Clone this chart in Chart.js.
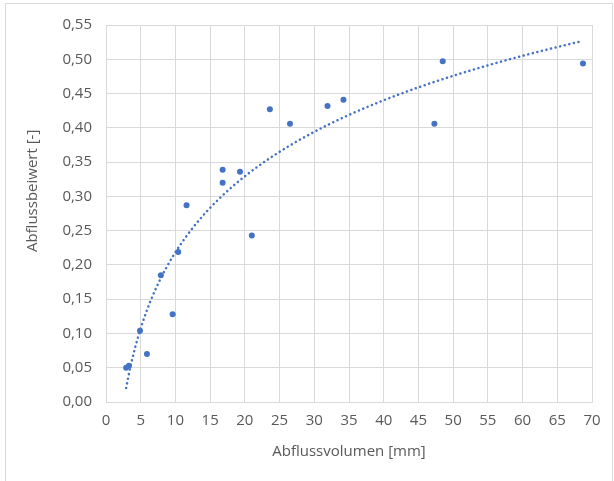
<!DOCTYPE html>
<html lang="de">
<head>
<meta charset="utf-8">
<title>Abflussbeiwert über Abflussvolumen</title>
<script src="https://cdn.jsdelivr.net/npm/chart.js@4"></script>
<style>
  html, body { margin: 0; padding: 0; background: #ffffff; }
  #wrap { position: relative; width: 614px; height: 481px; }
</style>
</head>
<body>
<div id="wrap"><canvas id="chart" width="614" height="481"></canvas></div>
<script>
// Messwerte: Abflussvolumen [mm] und zugehöriger Abflussbeiwert [-]
const abflussvolumen = [2.9, 3.3, 4.9, 5.9, 7.9, 9.6, 10.4, 11.6, 16.8, 16.8, 19.3, 21.0, 23.6, 26.5, 31.9, 34.2, 47.3, 48.5, 68.7];
const abflussbeiwert = [0.050, 0.053, 0.104, 0.070, 0.185, 0.128, 0.219, 0.287, 0.339, 0.320, 0.336, 0.243, 0.427, 0.406, 0.432, 0.441, 0.406, 0.497, 0.494];

// Achsenbeschriftungen
const xTickValues = [0, 5, 10, 15, 20, 25, 30, 35, 40, 45, 50, 55, 60, 65, 70];
const xTickLabels = ['0', '5', '10', '15', '20', '25', '30', '35', '40', '45', '50', '55', '60', '65', '70'];
const yTickValues = [0, 0.05, 0.10, 0.15, 0.20, 0.25, 0.30, 0.35, 0.40, 0.45, 0.50, 0.55];
const yTickLabels = ['0,00', '0,05', '0,10', '0,15', '0,20', '0,25', '0,30', '0,35', '0,40', '0,45', '0,50', '0,55'];

const xTitle = 'Abflussvolumen [mm]';
const yTitle = 'Abflussbeiwert [-]';

const blue = '#4472C4';
const gridColor = '#d9d9d9';
const textColor = '#595959';
const fontFamily = '"Open Sans", "Liberation Sans", sans-serif';

// Logarithmische Trendlinie y = a·ln(x) + b (kleinste Quadrate)
function logFit(xs, ys) {
  const n = xs.length;
  const lx = xs.map(Math.log);
  const mx = lx.reduce((s, v) => s + v, 0) / n;
  const my = ys.reduce((s, v) => s + v, 0) / n;
  let sxy = 0, sxx = 0;
  for (let i = 0; i < n; i++) {
    sxy += (lx[i] - mx) * (ys[i] - my);
    sxx += (lx[i] - mx) * (lx[i] - mx);
  }
  const a = sxy / sxx;
  return { a, b: my - a * mx };
}
const fit = logFit(abflussvolumen, abflussbeiwert);
const xMin = Math.min(...abflussvolumen);
const xMax = Math.max(...abflussvolumen);
const trendPoints = [];
const steps = 160;
for (let i = 0; i <= steps; i++) {
  const x = xMin + (xMax - xMin) * i / steps;
  trendPoints.push({ x, y: fit.a * Math.log(x) + fit.b });
}

const messpunkte = abflussvolumen.map((x, i) => ({ x, y: abflussbeiwert[i] }));

// Rahmen um die gesamte Diagrammfläche
const frame = {
  id: 'frame',
  beforeDraw(chart) {
    const ctx = chart.ctx;
    ctx.save();
    ctx.fillStyle = '#ffffff';
    ctx.fillRect(0, 0, chart.width, chart.height);
    ctx.strokeStyle = '#d9d9d9';
    ctx.lineWidth = 1;
    ctx.strokeRect(5.5, 3.5, 607, 500);
    ctx.restore();
  }
};

// Senkrechter Titel der y-Achse, etwas oberhalb der Mitte der Zeichenfläche
const yAxisTitle = {
  id: 'yAxisTitle',
  afterDraw(chart) {
    const ctx = chart.ctx;
    const area = chart.chartArea;
    ctx.save();
    ctx.translate(33, area.top + (area.bottom - area.top) * 0.44);
    ctx.rotate(-Math.PI / 2);
    ctx.fillStyle = textColor;
    ctx.font = '15px ' + fontFamily;
    ctx.textAlign = 'center';
    ctx.textBaseline = 'middle';
    ctx.fillText(yTitle, 0, 0);
    ctx.restore();
  }
};

new Chart(document.getElementById('chart'), {
  type: 'scatter',
  data: {
    datasets: [
      {
        label: 'Trend',
        data: trendPoints,
        showLine: true,
        borderColor: blue,
        borderWidth: 2.5,
        borderDash: [0.1, 4.6],
        borderCapStyle: 'round',
        pointRadius: 0,
        fill: false,
        tension: 0
      },
      {
        label: 'Messwerte',
        data: messpunkte,
        showLine: false,
        pointRadius: 3,
        pointBackgroundColor: blue,
        pointBorderColor: blue,
        pointBorderWidth: 0
      }
    ]
  },
  options: {
    responsive: false,
    animation: false,
    events: [],
    layout: { padding: { left: 0, top: 25, right: 22, bottom: 0 } },
    plugins: { legend: { display: false }, tooltip: { enabled: false } },
    scales: {
      x: {
        type: 'linear',
        min: 0,
        max: 70,
        afterFit(scale) { scale.height = 79; },
        afterBuildTicks(scale) { scale.ticks = xTickValues.map(v => ({ value: v })); },
        ticks: {
          color: textColor,
          font: { family: fontFamily, size: 15 },
          padding: 10,
          maxRotation: 0,
          autoSkip: false,
          callback: (v, i) => xTickLabels[i]
        },
        grid: { color: gridColor, lineWidth: 1, drawTicks: false },
        border: { color: gridColor, width: 1 },
        title: {
          display: true,
          text: xTitle,
          color: textColor,
          font: { family: fontFamily, size: 15 },
          padding: { top: 0, bottom: 20 }
        }
      },
      y: {
        type: 'linear',
        min: 0,
        max: 0.55,
        afterFit(scale) { scale.width = 106; },
        afterBuildTicks(scale) { scale.ticks = yTickValues.map(v => ({ value: v })); },
        ticks: {
          color: textColor,
          font: { family: fontFamily, size: 15 },
          padding: 14,
          autoSkip: false,
          callback: (v, i) => yTickLabels[i]
        },
        grid: { color: gridColor, lineWidth: 1, drawTicks: false },
        border: { color: gridColor, width: 1 },
        title: { display: false }
      }
    }
  },
  plugins: [frame, yAxisTitle]
});
</script>
</body>
</html>
